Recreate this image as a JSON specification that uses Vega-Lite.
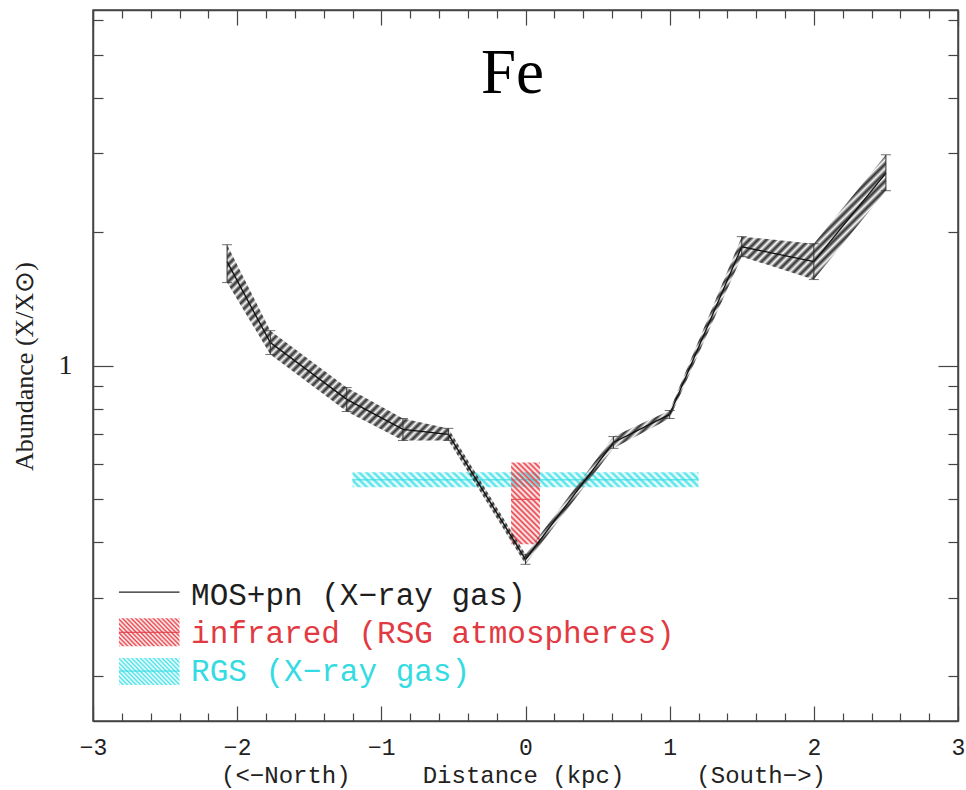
{
"$schema":"https://vega.github.io/schema/vega-lite/v6.json",
"width":865,"height":711,
"autosize":{"type":"none"},
"padding":{"left":93,"top":10,"right":8,"bottom":69},
"background":"white",
"config":{"view":{"stroke":"#444","strokeWidth":1.5},"axis":{"grid":false}},
"datasets":{
"mos":[
{"x":-2.07,"y":1.713,"lo":1.537,"hi":1.870},
{"x":-1.77,"y":1.126,"lo":1.059,"hi":1.198},
{"x":-1.24,"y":0.839,"lo":0.788,"hi":0.892},
{"x":-0.85,"y":0.718,"lo":0.678,"hi":0.760},
{"x":-0.535,"y":0.700,"lo":0.678,"hi":0.722},
{"x":0.0,"y":0.366,"lo":0.357,"hi":0.376},
{"x":0.61,"y":0.671,"lo":0.651,"hi":0.692},
{"x":1.0,"y":0.776,"lo":0.760,"hi":0.792},
{"x":1.5,"y":1.85,"lo":1.758,"hi":1.950},
{"x":2.0,"y":1.713,"lo":1.561,"hi":1.880},
{"x":2.5,"y":2.71,"lo":2.474,"hi":2.98}
],
"rgs":[{"series":"RGS","x":-1.2,"x2":1.2,"lo":0.532,"hi":0.575,"mid":0.553}],
"ir":[{"series":"infrared","x":-0.1,"x2":0.1,"lo":0.396,"hi":0.605,"mid":0.50}],
"bands":[{"series":"RGS","x":-1.2,"x2":1.2,"mid":0.553},{"series":"infrared","x":-0.1,"x2":0.1,"mid":0.50}],
"legline":[{"series":"MOS+pn","x":-2.82,"x2":-2.40,"y":0.309}],
"legir":[{"series":"infrared","x":-2.82,"x2":-2.40,"lo":0.2336,"hi":0.270,"mid":0.251}],
"legrgs":[{"series":"RGS","x":-2.82,"x2":-2.40,"lo":0.191,"hi":0.2196,"mid":0.2053}],
"legmid":[{"series":"infrared","x":-2.82,"x2":-2.40,"mid":0.251},{"series":"RGS","x":-2.82,"x2":-2.40,"mid":0.2053}],
"legtext":[
{"series":"MOS+pn","x":-2.32,"y":0.2888,"label":"MOS+pn (X−ray gas)"},
{"series":"infrared","x":-2.32,"y":0.2372,"label":"infrared (RSG atmospheres)"},
{"series":"RGS","x":-2.32,"y":0.1950,"label":"RGS (X−ray gas)"}
],
"title":[{"x":-0.09,"y":4.108,"label":"Fe"}]
},
"resolve":{"axis":{"x":"independent","y":"independent"}},
"layer":[
{"data":{"name":"rgs"},
 "mark":{"type":"rect","stroke":null,"fill":{"gradient":"linear","x1":0,"y1":1,"x2":1.0414,"y2":0.9549,"stops":[
{"offset":0,"color":"#48e2e8"},{"offset":0.01,"color":"rgba(72,226,232,0)"},{"offset":0.02,"color":"#48e2e8"},{"offset":0.03,"color":"rgba(72,226,232,0)"},{"offset":0.04,"color":"#48e2e8"},{"offset":0.05,"color":"rgba(72,226,232,0)"},{"offset":0.06,"color":"#48e2e8"},{"offset":0.07,"color":"rgba(72,226,232,0)"},{"offset":0.08,"color":"#48e2e8"},{"offset":0.09,"color":"rgba(72,226,232,0)"},
{"offset":0.1,"color":"#48e2e8"},{"offset":0.11,"color":"rgba(72,226,232,0)"},{"offset":0.12,"color":"#48e2e8"},{"offset":0.13,"color":"rgba(72,226,232,0)"},{"offset":0.14,"color":"#48e2e8"},{"offset":0.15,"color":"rgba(72,226,232,0)"},{"offset":0.16,"color":"#48e2e8"},{"offset":0.17,"color":"rgba(72,226,232,0)"},{"offset":0.18,"color":"#48e2e8"},{"offset":0.19,"color":"rgba(72,226,232,0)"},
{"offset":0.2,"color":"#48e2e8"},{"offset":0.21,"color":"rgba(72,226,232,0)"},{"offset":0.22,"color":"#48e2e8"},{"offset":0.23,"color":"rgba(72,226,232,0)"},{"offset":0.24,"color":"#48e2e8"},{"offset":0.25,"color":"rgba(72,226,232,0)"},{"offset":0.26,"color":"#48e2e8"},{"offset":0.27,"color":"rgba(72,226,232,0)"},{"offset":0.28,"color":"#48e2e8"},{"offset":0.29,"color":"rgba(72,226,232,0)"},
{"offset":0.3,"color":"#48e2e8"},{"offset":0.31,"color":"rgba(72,226,232,0)"},{"offset":0.32,"color":"#48e2e8"},{"offset":0.33,"color":"rgba(72,226,232,0)"},{"offset":0.34,"color":"#48e2e8"},{"offset":0.35,"color":"rgba(72,226,232,0)"},{"offset":0.36,"color":"#48e2e8"},{"offset":0.37,"color":"rgba(72,226,232,0)"},{"offset":0.38,"color":"#48e2e8"},{"offset":0.39,"color":"rgba(72,226,232,0)"},
{"offset":0.4,"color":"#48e2e8"},{"offset":0.41,"color":"rgba(72,226,232,0)"},{"offset":0.42,"color":"#48e2e8"},{"offset":0.43,"color":"rgba(72,226,232,0)"},{"offset":0.44,"color":"#48e2e8"},{"offset":0.45,"color":"rgba(72,226,232,0)"},{"offset":0.46,"color":"#48e2e8"},{"offset":0.47,"color":"rgba(72,226,232,0)"},{"offset":0.48,"color":"#48e2e8"},{"offset":0.49,"color":"rgba(72,226,232,0)"},
{"offset":0.5,"color":"#48e2e8"},{"offset":0.51,"color":"rgba(72,226,232,0)"},{"offset":0.52,"color":"#48e2e8"},{"offset":0.53,"color":"rgba(72,226,232,0)"},{"offset":0.54,"color":"#48e2e8"},{"offset":0.55,"color":"rgba(72,226,232,0)"},{"offset":0.56,"color":"#48e2e8"},{"offset":0.57,"color":"rgba(72,226,232,0)"},{"offset":0.58,"color":"#48e2e8"},{"offset":0.59,"color":"rgba(72,226,232,0)"},
{"offset":0.6,"color":"#48e2e8"},{"offset":0.61,"color":"rgba(72,226,232,0)"},{"offset":0.62,"color":"#48e2e8"},{"offset":0.63,"color":"rgba(72,226,232,0)"},{"offset":0.64,"color":"#48e2e8"},{"offset":0.65,"color":"rgba(72,226,232,0)"},{"offset":0.66,"color":"#48e2e8"},{"offset":0.67,"color":"rgba(72,226,232,0)"},{"offset":0.68,"color":"#48e2e8"},{"offset":0.69,"color":"rgba(72,226,232,0)"},
{"offset":0.7,"color":"#48e2e8"},{"offset":0.71,"color":"rgba(72,226,232,0)"},{"offset":0.72,"color":"#48e2e8"},{"offset":0.73,"color":"rgba(72,226,232,0)"},{"offset":0.74,"color":"#48e2e8"},{"offset":0.75,"color":"rgba(72,226,232,0)"},{"offset":0.76,"color":"#48e2e8"},{"offset":0.77,"color":"rgba(72,226,232,0)"},{"offset":0.78,"color":"#48e2e8"},{"offset":0.79,"color":"rgba(72,226,232,0)"},
{"offset":0.8,"color":"#48e2e8"},{"offset":0.81,"color":"rgba(72,226,232,0)"},{"offset":0.82,"color":"#48e2e8"},{"offset":0.83,"color":"rgba(72,226,232,0)"},{"offset":0.84,"color":"#48e2e8"},{"offset":0.85,"color":"rgba(72,226,232,0)"},{"offset":0.86,"color":"#48e2e8"},{"offset":0.87,"color":"rgba(72,226,232,0)"},{"offset":0.88,"color":"#48e2e8"},{"offset":0.89,"color":"rgba(72,226,232,0)"},
{"offset":0.9,"color":"#48e2e8"},{"offset":0.91,"color":"rgba(72,226,232,0)"},{"offset":0.92,"color":"#48e2e8"},{"offset":0.93,"color":"rgba(72,226,232,0)"},{"offset":0.94,"color":"#48e2e8"},{"offset":0.95,"color":"rgba(72,226,232,0)"},{"offset":0.96,"color":"#48e2e8"},{"offset":0.97,"color":"rgba(72,226,232,0)"},{"offset":0.98,"color":"#48e2e8"},{"offset":0.99,"color":"rgba(72,226,232,0)"},
{"offset":1,"color":"#48e2e8"}]}},
 "encoding":{
  "x":{"field":"x","type":"quantitative","scale":{"domain":[-3,3],"nice":false,"zero":false},
   "axis":{"orient":"bottom","values":[-3,-2.8,-2.6,-2.4,-2.2,-2,-1.8,-1.6,-1.4,-1.2,-1,-0.8,-0.6,-0.4,-0.2,0,0.2,0.4,0.6,0.8,1,1.2,1.4,1.6,1.8,2,2.2,2.4,2.6,2.8,3],
    "format":".0f","labelExpr":"abs(datum.value-round(datum.value))<0.01 ? datum.label : ''",
    "tickSize":{"condition":{"test":"abs(datum.value-round(datum.value))<0.01","value":-15},"value":-8},
    "labelPadding":41,"labelBaseline":"middle","labelOverlap":false,"labelFlush":false,
    "labelFont":"Liberation Mono","labelFontSize":23,"labelColor":"#222",
    "domainColor":"#444","domainWidth":1.5,"tickColor":"#444","tickWidth":1.2,
    "title":"(<−North)\u00a0\u00a0\u00a0\u00a0\u00a0Distance\u00a0(kpc)\u00a0\u00a0\u00a0\u00a0\u00a0(South−>)",
    "titleFont":"Liberation Mono","titleFontSize":24,"titleFontWeight":"normal","titleColor":"#222",
    "titleX":430,"titleY":54,"titleAlign":"center","titleBaseline":"middle"}},
  "x2":{"field":"x2"},
  "y":{"field":"lo","type":"quantitative","scale":{"type":"log","domain":[0.1585,6.31],"nice":false},
   "axis":{"orient":"left","values":[0.2,0.3,0.4,0.5,0.6,0.7,0.8,0.9,1,2,3,4,5,6],
    "labelExpr":"datum.value==1 ? '1' : ''",
    "tickSize":{"condition":{"test":"datum.value==1","value":-20},"value":-10},
    "labelPadding":41,"labelBaseline":"middle","labelOverlap":false,"labelFlush":false,
    "labelFont":"Liberation Serif","labelFontSize":28,"labelColor":"#222",
    "domainColor":"#444","domainWidth":1.5,"tickColor":"#444","tickWidth":1.2,
    "title":"Abundance (X/X⊙)","titleFont":"Liberation Serif","titleFontSize":26,"titleFontWeight":"normal","titleColor":"#222",
    "titleX":-69,"titleY":356,"titleAngle":-90,"titleAlign":"center","titleBaseline":"middle"}},
  "y2":{"field":"hi"}}},
{"data":{"name":"bands"},
 "mark":{"type":"rule","strokeWidth":1},
 "encoding":{
  "x":{"field":"x","type":"quantitative","scale":{"domain":[-3,3],"nice":false,"zero":false},
   "axis":{"orient":"top","values":[-3,-2.8,-2.6,-2.4,-2.2,-2,-1.8,-1.6,-1.4,-1.2,-1,-0.8,-0.6,-0.4,-0.2,0,0.2,0.4,0.6,0.8,1,1.2,1.4,1.6,1.8,2,2.2,2.4,2.6,2.8,3],
    "labels":false,"title":null,
    "tickSize":{"condition":{"test":"abs(datum.value-round(datum.value))<0.01","value":-15},"value":-8},
    "domainColor":"#444","domainWidth":1.5,"tickColor":"#444","tickWidth":1.2}},
  "x2":{"field":"x2"},
  "y":{"field":"mid","type":"quantitative","scale":{"type":"log","domain":[0.1585,6.31],"nice":false},
   "axis":{"orient":"right","values":[0.2,0.3,0.4,0.5,0.6,0.7,0.8,0.9,1,2,3,4,5,6],
    "labels":false,"title":null,
    "tickSize":{"condition":{"test":"datum.value==1","value":-20},"value":-10},
    "domainColor":"#444","domainWidth":1.5,"tickColor":"#444","tickWidth":1.2}},
  "color":{"field":"series","type":"nominal","scale":{"domain":["MOS+pn","infrared","RGS"],"range":["#1e1e1e","#e23a42","#34dbe2"]},"legend":null}}},
{"data":{"name":"ir"},
 "mark":{"type":"rect","stroke":null,"fill":{"gradient":"linear","x1":0,"y1":1,"x2":0.4255,"y2":-0.2032,"stops":[
{"offset":0,"color":"#e8424a"},{"offset":0.025,"color":"rgba(232,66,74,0)"},{"offset":0.05,"color":"#e8424a"},{"offset":0.075,"color":"rgba(232,66,74,0)"},{"offset":0.1,"color":"#e8424a"},{"offset":0.125,"color":"rgba(232,66,74,0)"},{"offset":0.15,"color":"#e8424a"},{"offset":0.175,"color":"rgba(232,66,74,0)"},{"offset":0.2,"color":"#e8424a"},{"offset":0.225,"color":"rgba(232,66,74,0)"},
{"offset":0.25,"color":"#e8424a"},{"offset":0.275,"color":"rgba(232,66,74,0)"},{"offset":0.3,"color":"#e8424a"},{"offset":0.325,"color":"rgba(232,66,74,0)"},{"offset":0.35,"color":"#e8424a"},{"offset":0.375,"color":"rgba(232,66,74,0)"},{"offset":0.4,"color":"#e8424a"},{"offset":0.425,"color":"rgba(232,66,74,0)"},{"offset":0.45,"color":"#e8424a"},{"offset":0.475,"color":"rgba(232,66,74,0)"},
{"offset":0.5,"color":"#e8424a"},{"offset":0.525,"color":"rgba(232,66,74,0)"},{"offset":0.55,"color":"#e8424a"},{"offset":0.575,"color":"rgba(232,66,74,0)"},{"offset":0.6,"color":"#e8424a"},{"offset":0.625,"color":"rgba(232,66,74,0)"},{"offset":0.65,"color":"#e8424a"},{"offset":0.675,"color":"rgba(232,66,74,0)"},{"offset":0.7,"color":"#e8424a"},{"offset":0.725,"color":"rgba(232,66,74,0)"},
{"offset":0.75,"color":"#e8424a"},{"offset":0.775,"color":"rgba(232,66,74,0)"},{"offset":0.8,"color":"#e8424a"},{"offset":0.825,"color":"rgba(232,66,74,0)"},{"offset":0.85,"color":"#e8424a"},{"offset":0.875,"color":"rgba(232,66,74,0)"},{"offset":0.9,"color":"#e8424a"},{"offset":0.925,"color":"rgba(232,66,74,0)"},{"offset":0.95,"color":"#e8424a"},{"offset":0.975,"color":"rgba(232,66,74,0)"},
{"offset":1,"color":"#e8424a"}]}},
 "encoding":{
  "x":{"field":"x","type":"quantitative","scale":{"domain":[-3,3],"nice":false,"zero":false},"axis":null},
  "x2":{"field":"x2"},
  "y":{"field":"lo","type":"quantitative","scale":{"type":"log","domain":[0.1585,6.31],"nice":false},"axis":null},
  "y2":{"field":"hi"}}},
{"data":{"name":"mos"},
 "mark":{"type":"area","stroke":null,"fill":{"gradient":"linear","x1":0,"y1":0,"x2":1.1692,"y2":0.7285,"stops":[
{"offset":0,"color":"#333"},{"offset":0.004,"color":"transparent"},{"offset":0.008,"color":"#333"},{"offset":0.012,"color":"transparent"},{"offset":0.016,"color":"#333"},{"offset":0.02,"color":"transparent"},{"offset":0.024,"color":"#333"},{"offset":0.028,"color":"transparent"},{"offset":0.032,"color":"#333"},{"offset":0.036,"color":"transparent"},
{"offset":0.04,"color":"#333"},{"offset":0.044,"color":"transparent"},{"offset":0.048,"color":"#333"},{"offset":0.052,"color":"transparent"},{"offset":0.056,"color":"#333"},{"offset":0.06,"color":"transparent"},{"offset":0.064,"color":"#333"},{"offset":0.068,"color":"transparent"},{"offset":0.072,"color":"#333"},{"offset":0.076,"color":"transparent"},
{"offset":0.08,"color":"#333"},{"offset":0.084,"color":"transparent"},{"offset":0.088,"color":"#333"},{"offset":0.092,"color":"transparent"},{"offset":0.096,"color":"#333"},{"offset":0.1,"color":"transparent"},{"offset":0.104,"color":"#333"},{"offset":0.108,"color":"transparent"},{"offset":0.112,"color":"#333"},{"offset":0.116,"color":"transparent"},
{"offset":0.12,"color":"#333"},{"offset":0.124,"color":"transparent"},{"offset":0.128,"color":"#333"},{"offset":0.132,"color":"transparent"},{"offset":0.136,"color":"#333"},{"offset":0.14,"color":"transparent"},{"offset":0.144,"color":"#333"},{"offset":0.148,"color":"transparent"},{"offset":0.152,"color":"#333"},{"offset":0.156,"color":"transparent"},
{"offset":0.16,"color":"#333"},{"offset":0.164,"color":"transparent"},{"offset":0.168,"color":"#333"},{"offset":0.172,"color":"transparent"},{"offset":0.176,"color":"#333"},{"offset":0.18,"color":"transparent"},{"offset":0.184,"color":"#333"},{"offset":0.188,"color":"transparent"},{"offset":0.192,"color":"#333"},{"offset":0.196,"color":"transparent"},
{"offset":0.2,"color":"#333"},{"offset":0.204,"color":"transparent"},{"offset":0.208,"color":"#333"},{"offset":0.212,"color":"transparent"},{"offset":0.216,"color":"#333"},{"offset":0.22,"color":"transparent"},{"offset":0.224,"color":"#333"},{"offset":0.228,"color":"transparent"},{"offset":0.232,"color":"#333"},{"offset":0.236,"color":"transparent"},
{"offset":0.24,"color":"#333"},{"offset":0.244,"color":"transparent"},{"offset":0.248,"color":"#333"},{"offset":0.252,"color":"transparent"},{"offset":0.256,"color":"#333"},{"offset":0.26,"color":"transparent"},{"offset":0.264,"color":"#333"},{"offset":0.268,"color":"transparent"},{"offset":0.272,"color":"#333"},{"offset":0.276,"color":"transparent"},
{"offset":0.28,"color":"#333"},{"offset":0.284,"color":"transparent"},{"offset":0.288,"color":"#333"},{"offset":0.292,"color":"transparent"},{"offset":0.296,"color":"#333"},{"offset":0.3,"color":"transparent"},{"offset":0.304,"color":"#333"},{"offset":0.308,"color":"transparent"},{"offset":0.312,"color":"#333"},{"offset":0.316,"color":"transparent"},
{"offset":0.32,"color":"#333"},{"offset":0.324,"color":"transparent"},{"offset":0.328,"color":"#333"},{"offset":0.332,"color":"transparent"},{"offset":0.336,"color":"#333"},{"offset":0.34,"color":"transparent"},{"offset":0.344,"color":"#333"},{"offset":0.348,"color":"transparent"},{"offset":0.352,"color":"#333"},{"offset":0.356,"color":"transparent"},
{"offset":0.36,"color":"#333"},{"offset":0.364,"color":"transparent"},{"offset":0.368,"color":"#333"},{"offset":0.372,"color":"transparent"},{"offset":0.376,"color":"#333"},{"offset":0.38,"color":"transparent"},{"offset":0.384,"color":"#333"},{"offset":0.388,"color":"transparent"},{"offset":0.392,"color":"#333"},{"offset":0.396,"color":"transparent"},
{"offset":0.4,"color":"#333"},{"offset":0.404,"color":"transparent"},{"offset":0.408,"color":"#333"},{"offset":0.412,"color":"transparent"},{"offset":0.416,"color":"#333"},{"offset":0.42,"color":"transparent"},{"offset":0.424,"color":"#333"},{"offset":0.428,"color":"transparent"},{"offset":0.432,"color":"#333"},{"offset":0.436,"color":"transparent"},
{"offset":0.44,"color":"#333"},{"offset":0.444,"color":"transparent"},{"offset":0.448,"color":"#333"},{"offset":0.452,"color":"transparent"},{"offset":0.456,"color":"#333"},{"offset":0.46,"color":"transparent"},{"offset":0.464,"color":"#333"},{"offset":0.468,"color":"transparent"},{"offset":0.472,"color":"#333"},{"offset":0.476,"color":"transparent"},
{"offset":0.48,"color":"#333"},{"offset":0.484,"color":"transparent"},{"offset":0.488,"color":"#333"},{"offset":0.492,"color":"transparent"},{"offset":0.496,"color":"#333"},{"offset":0.5,"color":"transparent"},{"offset":0.504,"color":"#333"},{"offset":0.508,"color":"transparent"},{"offset":0.512,"color":"#333"},{"offset":0.516,"color":"transparent"},
{"offset":0.52,"color":"#333"},{"offset":0.524,"color":"transparent"},{"offset":0.528,"color":"#333"},{"offset":0.532,"color":"transparent"},{"offset":0.536,"color":"#333"},{"offset":0.54,"color":"transparent"},{"offset":0.544,"color":"#333"},{"offset":0.548,"color":"transparent"},{"offset":0.552,"color":"#333"},{"offset":0.556,"color":"transparent"},
{"offset":0.56,"color":"#333"},{"offset":0.564,"color":"transparent"},{"offset":0.568,"color":"#333"},{"offset":0.572,"color":"transparent"},{"offset":0.576,"color":"#333"},{"offset":0.58,"color":"transparent"},{"offset":0.584,"color":"#333"},{"offset":0.588,"color":"transparent"},{"offset":0.592,"color":"#333"},{"offset":0.596,"color":"transparent"},
{"offset":0.6,"color":"#333"},{"offset":0.604,"color":"transparent"},{"offset":0.608,"color":"#333"},{"offset":0.612,"color":"transparent"},{"offset":0.616,"color":"#333"},{"offset":0.62,"color":"transparent"},{"offset":0.624,"color":"#333"},{"offset":0.628,"color":"transparent"},{"offset":0.632,"color":"#333"},{"offset":0.636,"color":"transparent"},
{"offset":0.64,"color":"#333"},{"offset":0.644,"color":"transparent"},{"offset":0.648,"color":"#333"},{"offset":0.652,"color":"transparent"},{"offset":0.656,"color":"#333"},{"offset":0.66,"color":"transparent"},{"offset":0.664,"color":"#333"},{"offset":0.668,"color":"transparent"},{"offset":0.672,"color":"#333"},{"offset":0.676,"color":"transparent"},
{"offset":0.68,"color":"#333"},{"offset":0.684,"color":"transparent"},{"offset":0.688,"color":"#333"},{"offset":0.692,"color":"transparent"},{"offset":0.696,"color":"#333"},{"offset":0.7,"color":"transparent"},{"offset":0.704,"color":"#333"},{"offset":0.708,"color":"transparent"},{"offset":0.712,"color":"#333"},{"offset":0.716,"color":"transparent"},
{"offset":0.72,"color":"#333"},{"offset":0.724,"color":"transparent"},{"offset":0.728,"color":"#333"},{"offset":0.732,"color":"transparent"},{"offset":0.736,"color":"#333"},{"offset":0.74,"color":"transparent"},{"offset":0.744,"color":"#333"},{"offset":0.748,"color":"transparent"},{"offset":0.752,"color":"#333"},{"offset":0.756,"color":"transparent"},
{"offset":0.76,"color":"#333"},{"offset":0.764,"color":"transparent"},{"offset":0.768,"color":"#333"},{"offset":0.772,"color":"transparent"},{"offset":0.776,"color":"#333"},{"offset":0.78,"color":"transparent"},{"offset":0.784,"color":"#333"},{"offset":0.788,"color":"transparent"},{"offset":0.792,"color":"#333"},{"offset":0.796,"color":"transparent"},
{"offset":0.8,"color":"#333"},{"offset":0.804,"color":"transparent"},{"offset":0.808,"color":"#333"},{"offset":0.812,"color":"transparent"},{"offset":0.816,"color":"#333"},{"offset":0.82,"color":"transparent"},{"offset":0.824,"color":"#333"},{"offset":0.828,"color":"transparent"},{"offset":0.832,"color":"#333"},{"offset":0.836,"color":"transparent"},
{"offset":0.84,"color":"#333"},{"offset":0.844,"color":"transparent"},{"offset":0.848,"color":"#333"},{"offset":0.852,"color":"transparent"},{"offset":0.856,"color":"#333"},{"offset":0.86,"color":"transparent"},{"offset":0.864,"color":"#333"},{"offset":0.868,"color":"transparent"},{"offset":0.872,"color":"#333"},{"offset":0.876,"color":"transparent"},
{"offset":0.88,"color":"#333"},{"offset":0.884,"color":"transparent"},{"offset":0.888,"color":"#333"},{"offset":0.892,"color":"transparent"},{"offset":0.896,"color":"#333"},{"offset":0.9,"color":"transparent"},{"offset":0.904,"color":"#333"},{"offset":0.908,"color":"transparent"},{"offset":0.912,"color":"#333"},{"offset":0.916,"color":"transparent"},
{"offset":0.92,"color":"#333"},{"offset":0.924,"color":"transparent"},{"offset":0.928,"color":"#333"},{"offset":0.932,"color":"transparent"},{"offset":0.936,"color":"#333"},{"offset":0.94,"color":"transparent"},{"offset":0.944,"color":"#333"},{"offset":0.948,"color":"transparent"},{"offset":0.952,"color":"#333"},{"offset":0.956,"color":"transparent"},
{"offset":0.96,"color":"#333"},{"offset":0.964,"color":"transparent"},{"offset":0.968,"color":"#333"},{"offset":0.972,"color":"transparent"},{"offset":0.976,"color":"#333"},{"offset":0.98,"color":"transparent"},{"offset":0.984,"color":"#333"},{"offset":0.988,"color":"transparent"},{"offset":0.992,"color":"#333"},{"offset":0.996,"color":"transparent"},
{"offset":1,"color":"#333"}]}},
 "encoding":{
  "x":{"field":"x","type":"quantitative","scale":{"domain":[-3,3],"nice":false,"zero":false},"axis":null},
  "y":{"field":"lo","type":"quantitative","scale":{"type":"log","domain":[0.1585,6.31],"nice":false},"axis":null},
  "y2":{"field":"hi"}}},
{"data":{"name":"mos"},
 "mark":{"type":"line","color":"#111","strokeWidth":1.3},
 "encoding":{
  "x":{"field":"x","type":"quantitative","scale":{"domain":[-3,3],"nice":false,"zero":false},"axis":null},
  "y":{"field":"y","type":"quantitative","scale":{"type":"log","domain":[0.1585,6.31],"nice":false},"axis":null}}},
{"data":{"name":"mos"},
 "mark":{"type":"rule","color":"#333","strokeWidth":1},
 "encoding":{
  "x":{"field":"x","type":"quantitative","scale":{"domain":[-3,3],"nice":false,"zero":false},"axis":null},
  "y":{"field":"lo","type":"quantitative","scale":{"type":"log","domain":[0.1585,6.31],"nice":false},"axis":null},
  "y2":{"field":"hi"}}},
{"data":{"name":"mos"},
 "mark":{"type":"tick","orient":"horizontal","size":10,"thickness":1,"color":"#333"},
 "encoding":{
  "x":{"field":"x","type":"quantitative","scale":{"domain":[-3,3],"nice":false,"zero":false},"axis":null},
  "y":{"field":"lo","type":"quantitative","scale":{"type":"log","domain":[0.1585,6.31],"nice":false},"axis":null}}},
{"data":{"name":"mos"},
 "mark":{"type":"tick","orient":"horizontal","size":10,"thickness":1,"color":"#333"},
 "encoding":{
  "x":{"field":"x","type":"quantitative","scale":{"domain":[-3,3],"nice":false,"zero":false},"axis":null},
  "y":{"field":"hi","type":"quantitative","scale":{"type":"log","domain":[0.1585,6.31],"nice":false},"axis":null}}},
{"data":{"name":"legline"},
 "mark":{"type":"rule","color":"#222","strokeWidth":1.2},
 "encoding":{
  "x":{"field":"x","type":"quantitative","scale":{"domain":[-3,3],"nice":false,"zero":false},"axis":null},
  "x2":{"field":"x2"},
  "y":{"field":"y","type":"quantitative","scale":{"type":"log","domain":[0.1585,6.31],"nice":false},"axis":null}}},
{"data":{"name":"legir"},
 "mark":{"type":"rect","stroke":null,"fill":{"gradient":"linear","x1":0,"y1":1,"x2":1.2057,"y2":0.4555,"stops":[
{"offset":0,"color":"#e8424a"},{"offset":0.025,"color":"rgba(232,66,74,0)"},{"offset":0.05,"color":"#e8424a"},{"offset":0.075,"color":"rgba(232,66,74,0)"},{"offset":0.1,"color":"#e8424a"},{"offset":0.125,"color":"rgba(232,66,74,0)"},{"offset":0.15,"color":"#e8424a"},{"offset":0.175,"color":"rgba(232,66,74,0)"},{"offset":0.2,"color":"#e8424a"},{"offset":0.225,"color":"rgba(232,66,74,0)"},
{"offset":0.25,"color":"#e8424a"},{"offset":0.275,"color":"rgba(232,66,74,0)"},{"offset":0.3,"color":"#e8424a"},{"offset":0.325,"color":"rgba(232,66,74,0)"},{"offset":0.35,"color":"#e8424a"},{"offset":0.375,"color":"rgba(232,66,74,0)"},{"offset":0.4,"color":"#e8424a"},{"offset":0.425,"color":"rgba(232,66,74,0)"},{"offset":0.45,"color":"#e8424a"},{"offset":0.475,"color":"rgba(232,66,74,0)"},
{"offset":0.5,"color":"#e8424a"},{"offset":0.525,"color":"rgba(232,66,74,0)"},{"offset":0.55,"color":"#e8424a"},{"offset":0.575,"color":"rgba(232,66,74,0)"},{"offset":0.6,"color":"#e8424a"},{"offset":0.625,"color":"rgba(232,66,74,0)"},{"offset":0.65,"color":"#e8424a"},{"offset":0.675,"color":"rgba(232,66,74,0)"},{"offset":0.7,"color":"#e8424a"},{"offset":0.725,"color":"rgba(232,66,74,0)"},
{"offset":0.75,"color":"#e8424a"},{"offset":0.775,"color":"rgba(232,66,74,0)"},{"offset":0.8,"color":"#e8424a"},{"offset":0.825,"color":"rgba(232,66,74,0)"},{"offset":0.85,"color":"#e8424a"},{"offset":0.875,"color":"rgba(232,66,74,0)"},{"offset":0.9,"color":"#e8424a"},{"offset":0.925,"color":"rgba(232,66,74,0)"},{"offset":0.95,"color":"#e8424a"},{"offset":0.975,"color":"rgba(232,66,74,0)"},
{"offset":1,"color":"#e8424a"}]}},
 "encoding":{
  "x":{"field":"x","type":"quantitative","scale":{"domain":[-3,3],"nice":false,"zero":false},"axis":null},
  "x2":{"field":"x2"},
  "y":{"field":"lo","type":"quantitative","scale":{"type":"log","domain":[0.1585,6.31],"nice":false},"axis":null},
  "y2":{"field":"hi"}}},
{"data":{"name":"legrgs"},
 "mark":{"type":"rect","stroke":null,"fill":{"gradient":"linear","x1":0,"y1":1,"x2":1.2066,"y2":0.4745,"stops":[
{"offset":0,"color":"#48e2e8"},{"offset":0.025,"color":"rgba(72,226,232,0)"},{"offset":0.05,"color":"#48e2e8"},{"offset":0.075,"color":"rgba(72,226,232,0)"},{"offset":0.1,"color":"#48e2e8"},{"offset":0.125,"color":"rgba(72,226,232,0)"},{"offset":0.15,"color":"#48e2e8"},{"offset":0.175,"color":"rgba(72,226,232,0)"},{"offset":0.2,"color":"#48e2e8"},{"offset":0.225,"color":"rgba(72,226,232,0)"},
{"offset":0.25,"color":"#48e2e8"},{"offset":0.275,"color":"rgba(72,226,232,0)"},{"offset":0.3,"color":"#48e2e8"},{"offset":0.325,"color":"rgba(72,226,232,0)"},{"offset":0.35,"color":"#48e2e8"},{"offset":0.375,"color":"rgba(72,226,232,0)"},{"offset":0.4,"color":"#48e2e8"},{"offset":0.425,"color":"rgba(72,226,232,0)"},{"offset":0.45,"color":"#48e2e8"},{"offset":0.475,"color":"rgba(72,226,232,0)"},
{"offset":0.5,"color":"#48e2e8"},{"offset":0.525,"color":"rgba(72,226,232,0)"},{"offset":0.55,"color":"#48e2e8"},{"offset":0.575,"color":"rgba(72,226,232,0)"},{"offset":0.6,"color":"#48e2e8"},{"offset":0.625,"color":"rgba(72,226,232,0)"},{"offset":0.65,"color":"#48e2e8"},{"offset":0.675,"color":"rgba(72,226,232,0)"},{"offset":0.7,"color":"#48e2e8"},{"offset":0.725,"color":"rgba(72,226,232,0)"},
{"offset":0.75,"color":"#48e2e8"},{"offset":0.775,"color":"rgba(72,226,232,0)"},{"offset":0.8,"color":"#48e2e8"},{"offset":0.825,"color":"rgba(72,226,232,0)"},{"offset":0.85,"color":"#48e2e8"},{"offset":0.875,"color":"rgba(72,226,232,0)"},{"offset":0.9,"color":"#48e2e8"},{"offset":0.925,"color":"rgba(72,226,232,0)"},{"offset":0.95,"color":"#48e2e8"},{"offset":0.975,"color":"rgba(72,226,232,0)"},
{"offset":1,"color":"#48e2e8"}]}},
 "encoding":{
  "x":{"field":"x","type":"quantitative","scale":{"domain":[-3,3],"nice":false,"zero":false},"axis":null},
  "x2":{"field":"x2"},
  "y":{"field":"lo","type":"quantitative","scale":{"type":"log","domain":[0.1585,6.31],"nice":false},"axis":null},
  "y2":{"field":"hi"}}},
{"data":{"name":"legmid"},
 "mark":{"type":"rule","strokeWidth":1},
 "encoding":{
  "x":{"field":"x","type":"quantitative","scale":{"domain":[-3,3],"nice":false,"zero":false},"axis":null},
  "x2":{"field":"x2"},
  "y":{"field":"mid","type":"quantitative","scale":{"type":"log","domain":[0.1585,6.31],"nice":false},"axis":null},
  "color":{"field":"series","type":"nominal","legend":null}}},
{"data":{"name":"legtext"},
 "mark":{"type":"text","align":"left","baseline":"alphabetic","font":"Liberation Mono","fontSize":31},
 "encoding":{
  "x":{"field":"x","type":"quantitative","scale":{"domain":[-3,3],"nice":false,"zero":false},"axis":null},
  "y":{"field":"y","type":"quantitative","scale":{"type":"log","domain":[0.1585,6.31],"nice":false},"axis":null},
  "text":{"field":"label"},
  "color":{"field":"series","type":"nominal","legend":null}}},
{"data":{"name":"title"},
 "mark":{"type":"text","align":"center","baseline":"alphabetic","font":"Liberation Serif","fontSize":63,"color":"#000"},
 "encoding":{
  "x":{"field":"x","type":"quantitative","scale":{"domain":[-3,3],"nice":false,"zero":false},"axis":null},
  "y":{"field":"y","type":"quantitative","scale":{"type":"log","domain":[0.1585,6.31],"nice":false},"axis":null},
  "text":{"field":"label"}}}
]
}
